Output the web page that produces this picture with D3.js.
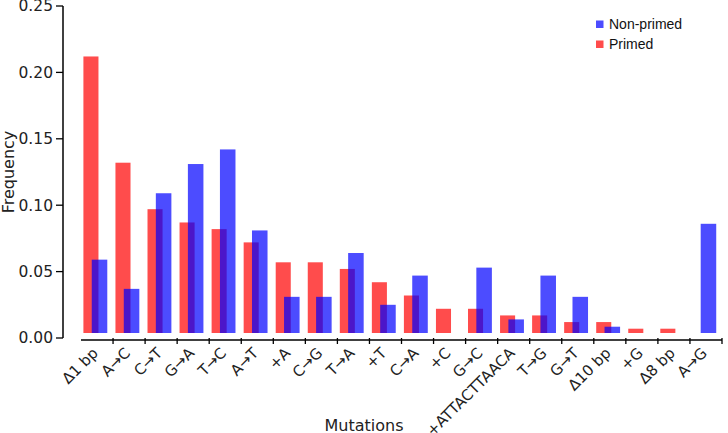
<!DOCTYPE html>
<html lang="en">
<head>
<meta charset="UTF-8">
<title>Mutation frequencies</title>
<script src="https://d3js.org/d3.v7.min.js"></script>
<style>
  body { margin: 0; background: #fff; }
  svg { display: block; }
  .tick-label { font-family: "DejaVu Sans", sans-serif; }
</style>
</head>
<body>
<svg width="728" height="433"></svg>
<script>
// data
const mutations = ["Δ1 bp", "A→C", "C→T", "G→A", "T→C", "A→T", "+A", "C→G", "T→A", "+T",
                   "C→A", "+C", "G→C", "+ATTACTTAACA", "T→G", "G→T", "Δ10 bp", "+G", "Δ8 bp", "A→G"];
const primed    = [0.212, 0.132, 0.097, 0.087, 0.082, 0.072, 0.057, 0.057, 0.052, 0.042,
                   0.032, 0.022, 0.022, 0.017, 0.017, 0.012, 0.012, 0.007, 0.007, 0];
const nonPrimed = [0.059, 0.037, 0.109, 0.131, 0.142, 0.081, 0.031, 0.031, 0.064, 0.025,
                   0.047, 0, 0.053, 0.014, 0.047, 0.031, 0.0085, 0, 0, 0.086];
const yTicks = [0, 0.05, 0.10, 0.15, 0.20, 0.25];

const svg = d3.select("svg");
const x = d3.scaleBand().domain(mutations).range([81, 722]);
const y = d3.scaleLinear().domain([0, 0.25]).range([338, 6]);
const axisY = 340, axisX = 63;
const baseGap = 5;                // bars sit a little above the zero line
const bw = x.bandwidth();

function bars(values, cls, color, offset, width) {
  svg.append("g").selectAll("rect")
    .data(values.map((v, i) => ({ k: mutations[i], v: v })).filter(d => d.v > 0))
    .join("rect")
      .attr("x", d => x(d.k) + bw * offset)
      .attr("width", bw * width)
      .attr("y", d => y(d.v))
      .attr("height", d => Math.max(0, y(0) - baseGap - y(d.v)))
      .attr("fill", color)
      .attr("fill-opacity", 0.7);
}
bars(primed, "primed", "#ff0000", 0.075, 0.47);
bars(nonPrimed, "nonprimed", "#0000ff", 0.335, 0.485);

// y axis
const ya = svg.append("g");
ya.append("line").attr("x1", axisX).attr("x2", axisX).attr("y1", y(0.25)).attr("y2", y(0))
  .attr("stroke", "#000").attr("stroke-width", 1.5);
ya.selectAll(".yt").data(yTicks).join("line")
  .attr("x1", axisX - 7).attr("x2", axisX).attr("y1", d => y(d)).attr("y2", d => y(d))
  .attr("stroke", "#000").attr("stroke-width", 1.3);
ya.selectAll(".yl").data(yTicks).join("text")
  .attr("class", "tick-label")
  .attr("x", axisX - 10).attr("y", d => y(d)).attr("dy", "0.35em")
  .attr("text-anchor", "end").attr("font-size", 15.5).attr("fill", "#222")
  .text(d3.format(".2f"));

// x axis
const xa = svg.append("g");
xa.append("line").attr("x1", x.range()[0]).attr("x2", x.range()[1]).attr("y1", axisY).attr("y2", axisY)
  .attr("stroke", "#000").attr("stroke-width", 1.5);
xa.selectAll(".xt").data(mutations).join("line")
  .attr("x1", d => x(d) + bw).attr("x2", d => x(d) + bw)
  .attr("y1", axisY - 2).attr("y2", axisY + 4)
  .attr("stroke", "#000").attr("stroke-width", 1.3);
xa.selectAll(".xl").data(mutations).join("text")
  .attr("class", "tick-label")
  .attr("font-size", 15).attr("fill", "#222").attr("text-anchor", "end")
  .attr("transform", d => "translate(" + (x(d) + bw / 2 + 2) + "," + (axisY + 14) + ") rotate(-45)")
  .text(d => d);

// axis titles
svg.append("text").attr("class", "tick-label")
  .attr("transform", "translate(14," + ((y(0) + y(0.25)) / 2) + ") rotate(-90)")
  .attr("text-anchor", "middle").attr("font-size", 16).attr("fill", "#222")
  .text("Frequency");
svg.append("text").attr("class", "tick-label")
  .attr("x", 364).attr("y", 431)
  .attr("text-anchor", "middle").attr("font-size", 16).attr("fill", "#222")
  .text("Mutations");

// legend
const legendItems = ["Non-primed", "Primed"];
const legendColors = ["#0000ff", "#ff0000"];
const lg = svg.append("g").attr("transform", "translate(596,20)");
legendItems.forEach((name, i) => {
  lg.append("rect").attr("x", 0).attr("y", i * 20 + 0.5).attr("width", 7.5).attr("height", 7.5)
    .attr("fill", legendColors[i]).attr("fill-opacity", 0.7);
  lg.append("text").attr("x", 13).attr("y", i * 20 + 9)
    .attr("font-family", "'Liberation Sans', Arial, sans-serif").attr("font-size", 14).attr("fill", "#111")
    .text(name);
});
</script>
</body>
</html>
